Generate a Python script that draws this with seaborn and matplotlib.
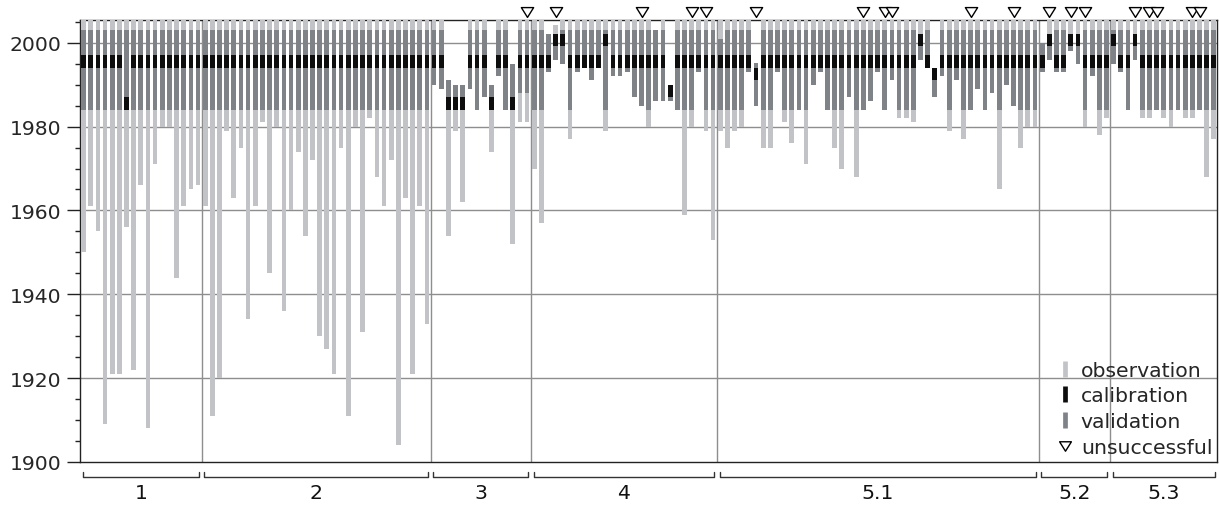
import numpy as np
import pandas as pd
import matplotlib
matplotlib.use("Agg")
import matplotlib.pyplot as plt
from matplotlib.ticker import MultipleLocator
from matplotlib.lines import Line2D
from matplotlib.path import Path
import seaborn as sns

# ---------------- data ----------------
groups = ["1", "2", "3", "4", "5.1", "5.2", "5.3"]
group_sizes = [17, 32, 14, 26, 45, 10, 15]

obs_start = [
    # 1
    1950, 1961, 1955, 1909, 1921, 1921, 1956, 1922, 1966, 1908, 1971, 1980, 1980, 1944, 1961, 1965, 1966,
    # 2
    1961, 1911, 1920, 1979, 1963, 1975, 1934, 1961, 1981, 1945, 1980, 1936, 1960, 1974, 1954, 1972,
    1930, 1927, 1921, 1975, 1911, 1980, 1931, 1982, 1968, 1961, 1972, 1904, 1963, 1921, 1961, 1933,
    # 3
    1990, 1989, 1954, 1979, 1962, 1989, 1984, 1987, 1974, 1992, 1984, 1952, 1981, 1981,
    # 4
    1970, 1957, 1993, 1996, 1995, 1977, 1993, 1994, 1991, 1994, 1979, 1992, 1992, 1993, 1987, 1985,
    1980, 1986, 1986, 1986, 1984, 1959, 1980, 1993, 1979, 1953,
    # 5.1
    1979, 1975, 1979, 1980, 1993, 1985, 1975, 1975, 1993, 1981, 1976, 1984, 1971, 1990, 1993, 1984,
    1975, 1970, 1987, 1968, 1984, 1986, 1993, 1984, 1991, 1982, 1982, 1981, 1996, 1994, 1987, 1992,
    1979, 1991, 1977, 1984, 1989, 1984, 1988, 1965, 1990, 1985, 1975, 1980, 1980,
    # 5.2
    1993, 1996, 1993, 1993, 1998, 1995, 1980, 1992, 1978, 1982,
    # 5.3
    1995, 1993, 1984, 1996, 1982, 1982, 1984, 1982, 1980, 1984, 1982, 1982, 1984, 1968, 1977,
]

obs_end = [
    # 1
    2006, 2006, 2006, 2006, 2006, 2006, 2006, 2006, 2006, 2006, 2006, 2006, 2006, 2006, 2006, 2006, 2006,
    # 2
    2006, 2006, 2006, 2006, 2006, 2006, 2006, 2006, 2006, 2006, 2006, 2006, 2006, 2006, 2006, 2006,
    2006, 2006, 2006, 2006, 2006, 2006, 2006, 2006, 2006, 2006, 2006, 2006, 2006, 2006, 2006, 2006,
    # 3
    2006, 2006, 1991, 1990, 1990, 2006, 2006, 2006, 1990, 2006, 2006, 1995, 2006, 2006,
    # 4
    2006, 2006, 2002, 2004.3, 2006, 2006, 2006, 2006, 2006, 2006, 2006, 2006, 2006, 2006, 2006, 2006,
    2006, 2003, 2006, 1990, 2006, 2006, 2006, 2006, 2006, 2006,
    # 5.1
    2006, 2006, 2006, 2006, 2006, 1995.2, 2006, 2006, 2006, 2006, 2006, 2006, 2006, 2006, 2006, 2006,
    2006, 2006, 2006, 2006, 2006, 2006, 2006, 2006, 2006, 2006, 2006, 2006, 2006, 2006, 1994, 2006,
    2006, 2006, 2006, 2006, 2006, 2006, 2006, 2006, 2006, 2006, 2006, 2006, 2006,
    # 5.2
    2000, 2006, 2006, 2006, 2006, 2006, 2006, 2006, 2006, 2006,
    # 5.3
    2006, 2006, 2006, 2006, 2006, 2006, 2006, 2006, 2006, 2006, 2006, 2006, 2006, 2006, 2006,
]

val_start = [
    # 1
    1984, 1984, 1984, 1984, 1984, 1984, 1984, 1984, 1984, 1984, 1984, 1984, 1984, 1984, 1984, 1984, 1984,
    # 2
    1984, 1984, 1984, 1984, 1984, 1984, 1984, 1984, 1984, 1984, 1984, 1984, 1984, 1984, 1984, 1984,
    1984, 1984, 1984, 1984, 1984, 1984, 1984, 1984, 1984, 1984, 1984, 1984, 1984, 1984, 1984, 1984,
    # 3
    1990, 1989, 1984, 1984, 1984, 1989, 1984, 1987, 1984, 1992, 1984, 1984, 1988, 1988,
    # 4
    1984, 1984, 1993, 1996, 1995, 1984, 1993, 1994, 1991, 1994, 1984, 1992, 1992, 1993, 1987, 1985,
    1984, 1986, 1986, 1986, 1984, 1984, 1984, 1993, 1984, 1984,
    # 5.1
    1984, 1984, 1984, 1984, 1993, 1985, 1984, 1984, 1993, 1984, 1984, 1984, 1984, 1990, 1993, 1984,
    1984, 1984, 1987, 1984, 1984, 1986, 1993, 1984, 1991, 1984, 1984, 1984, 1996, 1994, 1987, 1992,
    1984, 1991, 1984, 1984, 1989, 1984, 1988, 1984, 1990, 1985, 1984, 1984, 1984,
    # 5.2
    1993, 1996, 1993, 1993, 1998, 1995, 1984, 1992, 1984, 1984,
    # 5.3
    1995, 1993, 1984, 1996, 1984, 1984, 1984, 1984, 1984, 1984, 1984, 1984, 1984, 1984, 1984,
]

val_end = [
    # 1
    2003, 2003, 2003, 2003, 2003, 2003, 2003, 2003, 2003, 2003, 2003, 2003, 2003, 2003, 2003, 2003, 2003,
    # 2
    2003, 2003, 2003, 2003, 2003, 2003, 2003, 2003, 2003, 2003, 2003, 2003, 2003, 2003, 2003, 2003,
    2003, 2003, 2003, 2003, 2003, 2003, 2003, 2003, 2003, 2003, 2003, 2003, 2003, 2003, 2003, 2003,
    # 3
    2003, 2003, 1991, 1990, 1990, 2003, 2003, 2003, 1990, 2003, 2003, 1995, 2003, 2003,
    # 4
    2003, 2003, 2002, 1999.3, 2003, 2003, 2003, 2003, 2003, 2003, 2003, 2003, 2003, 2003, 2003, 2003,
    2003, 2003, 2003, 1987, 2003, 2003, 2003, 2003, 2003, 2003,
    # 5.1
    2001, 2003, 2003, 2003, 2003, 1995.2, 2003, 2003, 2003, 2003, 2003, 2003, 2003, 2003, 2003, 2003,
    2003, 2003, 2003, 2003, 2003, 2003, 2003, 2003, 2003, 2003, 2003, 2003, 1999.3, 2003, 1991, 2003,
    2003, 2003, 2003, 2003, 2003, 2003, 2003, 2003, 2003, 2003, 2003, 2003, 2003,
    # 5.2
    2000, 1999.3, 2003, 2003, 1999.3, 1999.3, 2003, 2003, 2003, 2003,
    # 5.3
    2003, 2003, 2003, 1999.3, 2003, 2003, 2003, 2003, 2003, 2003, 2003, 2003, 2003, 2003, 2003,
]

cal_start = [
    # 1
    1994, 1994, 1994, 1994, 1994, 1994, 1984, 1994, 1994, 1994, 1994, 1994, 1994, 1994, 1994, 1994, 1994,
    # 2
    1994, 1994, 1994, 1994, 1994, 1994, 1994, 1994, 1994, 1994, 1994, 1994, 1994, 1994, 1994, 1994,
    1994, 1994, 1994, 1994, 1994, 1994, 1994, 1994, 1994, 1994, 1994, 1994, 1994, 1994, 1994, 1994,
    # 3
    1994, 1994, 1984, 1984, 1984, 1994, 1994, 1994, 1984, 1994, 1994, 1984, 1994, 1994,
    # 4
    1994, 1994, 1994, 1999.3, 1999.3, 1994, 1994, 1994, 1994, 1994, 1999.3, 1994, 1994, 1994, 1994, 1994,
    1994, 1994, 1994, 1987, 1994, 1994, 1994, 1994, 1994, 1994,
    # 5.1
    1994, 1994, 1994, 1994, 1994, 1991, 1994, 1994, 1994, 1994, 1994, 1994, 1994, 1994, 1994, 1994,
    1994, 1994, 1994, 1994, 1994, 1994, 1994, 1994, 1994, 1994, 1994, 1994, 1999.3, 1994, 1991, 1994,
    1994, 1994, 1994, 1994, 1994, 1994, 1994, 1994, 1994, 1994, 1994, 1994, 1994,
    # 5.2
    1994, 1999.3, 1994, 1994, 1999.3, 1999.3, 1994, 1994, 1994, 1994,
    # 5.3
    1999.3, 1994, 1994, 1999.3, 1994, 1994, 1994, 1994, 1994, 1994, 1994, 1994, 1994, 1994, 1994,
]

cal_end = [
    # 1
    1997, 1997, 1997, 1997, 1997, 1997, 1987, 1997, 1997, 1997, 1997, 1997, 1997, 1997, 1997, 1997, 1997,
    # 2
    1997, 1997, 1997, 1997, 1997, 1997, 1997, 1997, 1997, 1997, 1997, 1997, 1997, 1997, 1997, 1997,
    1997, 1997, 1997, 1997, 1997, 1997, 1997, 1997, 1997, 1997, 1997, 1997, 1997, 1997, 1997, 1997,
    # 3
    1997, 1997, 1987, 1987, 1987, 1997, 1997, 1997, 1987, 1997, 1997, 1987, 1997, 1997,
    # 4
    1997, 1997, 1997, 2002.1, 2002.1, 1997, 1997, 1997, 1997, 1997, 2002.1, 1997, 1997, 1997, 1997, 1997,
    1997, 1997, 1997, 1990, 1997, 1997, 1997, 1997, 1997, 1997,
    # 5.1
    1997, 1997, 1997, 1997, 1997, 1994, 1997, 1997, 1997, 1997, 1997, 1997, 1997, 1997, 1997, 1997,
    1997, 1997, 1997, 1997, 1997, 1997, 1997, 1997, 1997, 1997, 1997, 1997, 2002.1, 1997, 1994, 1997,
    1997, 1997, 1997, 1997, 1997, 1997, 1997, 1997, 1997, 1997, 1997, 1997, 1997,
    # 5.2
    1997, 2002.1, 1997, 1997, 2002.1, 2002.1, 1997, 1997, 1997, 1997,
    # 5.3
    2002.1, 1997, 1997, 2002.1, 1997, 1997, 1997, 1997, 1997, 1997, 1997, 1997, 1997, 1997, 1997,
]

# stations (0-based position) where calibration was unsuccessful
unsuccessful = [62, 66, 78, 85, 87, 94, 109, 112, 113, 124, 130, 135, 138, 140, 147, 149, 150, 155, 156]

legend_labels = ["observation", "calibration", "validation", "unsuccessful"]

# ---------------- style ----------------
C_OBS = "#c2c3c7"
C_VAL = "#7f8287"
C_CAL = "#0d0d0d"
C_GRID = "#8e8e8e"
C_AX = "#222222"
FS = 14.7

sns.set_style("ticks")
plt.rcParams["font.family"] = ["DejaVu Sans"]

fig = plt.figure(figsize=(12.2, 5.06), dpi=100)
ax = fig.add_axes([80 / 1220, 43 / 506, 1137.4 / 1220, 442.3 / 506])

n = len(obs_start)
station = list(range(n))
df = pd.DataFrame({
    "station": station,
    "obs_start": obs_start, "obs_end": obs_end,
    "val_start": val_start, "val_end": val_end,
    "cal_start": cal_start, "cal_end": cal_end,
})

layers = [("obs", C_OBS), ("val", C_VAL), ("cal", C_CAL)]
for key, col in layers:
    heights = df[f"{key}_end"] - df[f"{key}_start"]
    sns.barplot(x=df["station"], y=heights, bottom=df[f"{key}_start"].values,
                color=col, width=0.66, saturation=1, errorbar=None,
                linewidth=0, ax=ax, zorder=3)

ylo, yhi = 1900, 2005.5
ax.set_ylim(ylo, yhi)
ax.set_xlim(-0.5, n - 0.5)

# grid: horizontal every 20 years, vertical at group boundaries
for y in range(1920, 2001, 20):
    ax.axhline(y, color=C_GRID, lw=1, zorder=1)
bounds = np.cumsum(group_sizes)[:-1] - 0.5
for b in bounds:
    ax.axvline(b, color=C_GRID, lw=1, zorder=1)

# unsuccessful markers above the plot
tri = Path([(-1, 0.8), (1, 0.8), (0, -0.8), (-1, 0.8)],
           [Path.MOVETO, Path.LINETO, Path.LINETO, Path.CLOSEPOLY])
tri_y = yhi + 1.8
sns.scatterplot(x=unsuccessful, y=[tri_y] * len(unsuccessful), marker=tri, s=78,
                facecolor="white", edgecolor="black", linewidth=1.0,
                clip_on=False, zorder=6, ax=ax, legend=False)

# axes styling
for sp in ax.spines.values():
    sp.set_visible(True)
    sp.set_color(C_AX)
    sp.set_linewidth(1)
ax.set_xticks([])
ax.set_xlabel("")
ax.set_ylabel("")
ax.yaxis.set_major_locator(MultipleLocator(20))
ax.yaxis.set_minor_locator(MultipleLocator(5))
ax.tick_params(axis="y", which="major", direction="out", length=9.5, width=1,
               color=C_AX, labelsize=FS, pad=3.6, left=True)
ax.tick_params(axis="y", which="minor", direction="out", length=3.8, width=1,
               color=C_AX, left=True)

# group brackets and labels below the axis
trans = ax.get_xaxis_transform()
start = 0
for name, size in zip(groups, group_sizes):
    a = start - 0.1
    b = start + size - 1 + 0.1
    yb, yt = -0.0346, -0.0226
    ax.plot([a, a, b, b], [yt, yb, yb, yt], transform=trans, clip_on=False,
            color="#333333", lw=1)
    ax.text((a + b) / 2, -0.068, name, transform=trans, ha="center", va="center",
            fontsize=FS, color="#111111")
    start += size

# legend
handles = [
    Line2D([], [], ls="none", marker="|", ms=11.5, mew=3.4, color=C_OBS),
    Line2D([], [], ls="none", marker="|", ms=11.5, mew=3.4, color=C_CAL),
    Line2D([], [], ls="none", marker="|", ms=11.5, mew=3.4, color=C_VAL),
    Line2D([], [], ls="none", marker=tri, ms=8.5, mfc="white", mec="black", mew=1.0),
]
ax.legend(handles, legend_labels, loc="lower right", bbox_to_anchor=(1.0, 0.0),
          frameon=False, fontsize=FS, handlelength=0.6, handletextpad=0.45,
          labelspacing=0.33, borderaxespad=0.15, borderpad=0.1)

fig.savefig("out.png", dpi=100)
